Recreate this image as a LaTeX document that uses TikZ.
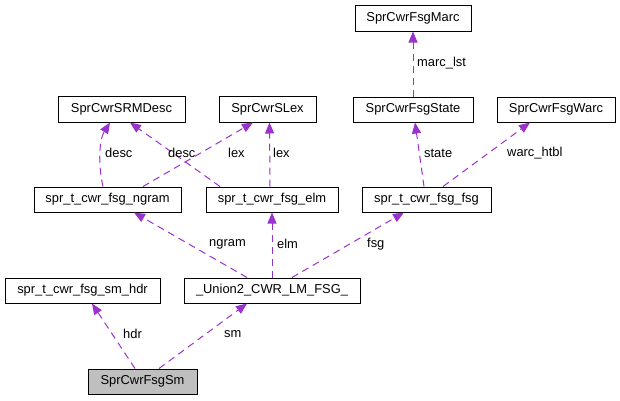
\documentclass[tikz,border=0pt]{standalone}
\usepackage{fontspec}
\setmainfont{Liberation Sans}
\usetikzlibrary{arrows.meta}
\definecolor{edgec}{RGB}{154,50,205}
\definecolor{smfill}{RGB}{191,191,191}
\tikzset{
  box/.style={draw=black, line width=1pt, fill=white, inner sep=0pt, font=\fontsize{12.9}{15}\selectfont},
  lbl/.style={anchor=west, inner sep=0pt, font=\fontsize{12.9}{15}\selectfont},
  rel/.style={draw=edgec, line width=1pt, dash pattern=on 7pt off 5pt, -{Triangle[length=11pt,width=9pt]}}
}
\begin{document}
\begin{tikzpicture}[x=1pt,y=-1pt]
\useasboundingbox (0,0) rectangle (620,400);
\node[box, minimum width=116pt, minimum height=26pt] (marc) at (413,18) {SprCwrFsgMarc};
\node[box, minimum width=127pt, minimum height=26pt] (srm) at (121.5,109) {SprCwrSRMDesc};
\node[box, minimum width=97pt, minimum height=26pt] (slex) at (267.5,109) {SprCwrSLex};
\node[box, minimum width=120pt, minimum height=25pt] (state) at (413,109.5) {SprCwrFsgState};
\node[box, minimum width=118pt, minimum height=25pt] (warc) at (556,109.5) {SprCwrFsgWarc};
\node[box, minimum width=147pt, minimum height=25pt] (ngram) at (107.5,199.5) {spr\_t\_cwr\_fsg\_ngram};
\node[box, minimum width=132pt, minimum height=25pt] (elm) at (272,199.5) {spr\_t\_cwr\_fsg\_elm};
\node[box, minimum width=129pt, minimum height=25pt] (fsg) at (426.5,199.5) {spr\_t\_cwr\_fsg\_fsg};
\node[box, minimum width=155pt, minimum height=25pt] (hdr) at (82.5,290.5) {spr\_t\_cwr\_fsg\_sm\_hdr};
\node[box, minimum width=176pt, minimum height=25pt] (union) at (272,290.5) {\_Union2\_CWR\_LM\_FSG\_};
\node[box, fill=smfill, minimum width=109pt, minimum height=25pt] (sm) at (142.5,381.5) {SprCwrFsgSm};

% edges
\draw[rel] (state.north) -- (marc.south);
\draw[rel] ([xshift=-4.5pt]ngram.north) .. controls (98,165) and (99,140) .. ([xshift=-11.5pt]srm.south);
\draw[rel] ([xshift=-52pt]elm.north) -- ([xshift=8.5pt]srm.south);
\draw[rel] ([xshift=35.5pt]ngram.north) -- ([xshift=-14.5pt]slex.south);
\draw[rel] ([xshift=-2pt]elm.north) -- ([xshift=2pt]slex.south);
\draw[rel] ([xshift=-2.5pt]fsg.north) -- ([xshift=2pt]state.south);
\draw[rel] ([xshift=16.5pt]fsg.north) -- ([xshift=-26pt]warc.south);
\draw[rel] ([xshift=-25pt]union.north) -- ([xshift=26.5pt]ngram.south);
\draw[rel] (union.north) -- (elm.south);
\draw[rel] ([xshift=20pt]union.north) -- ([xshift=-22.5pt]fsg.south);
\draw[rel] ([xshift=-7.5pt]sm.north) -- ([xshift=9.5pt]hdr.south);
\draw[rel] ([xshift=16.5pt]sm.north) -- ([xshift=-25pt]union.south);

% labels
\node[lbl] (l1) at (417,63) {marc\_lst};
\node[lbl] (l2) at (105,153) {desc};
\node[lbl] (l3) at (168,153) {desc};
\node[lbl] (l4) at (228,153) {lex};
\node[lbl] (l5) at (273,153) {lex};
\node[lbl] (l6) at (424,153) {state};
\node[lbl] (l7) at (507,153) {warc\_htbl};
\node[lbl] (l8) at (209,244) {ngram};
\node[lbl] (l9) at (277,244) {elm};
\node[lbl] (l10) at (367,244) {fsg};
\node[lbl] (l11) at (123,334) {hdr};
\node[lbl] (l12) at (224,334) {sm};
\end{tikzpicture}
\end{document}
